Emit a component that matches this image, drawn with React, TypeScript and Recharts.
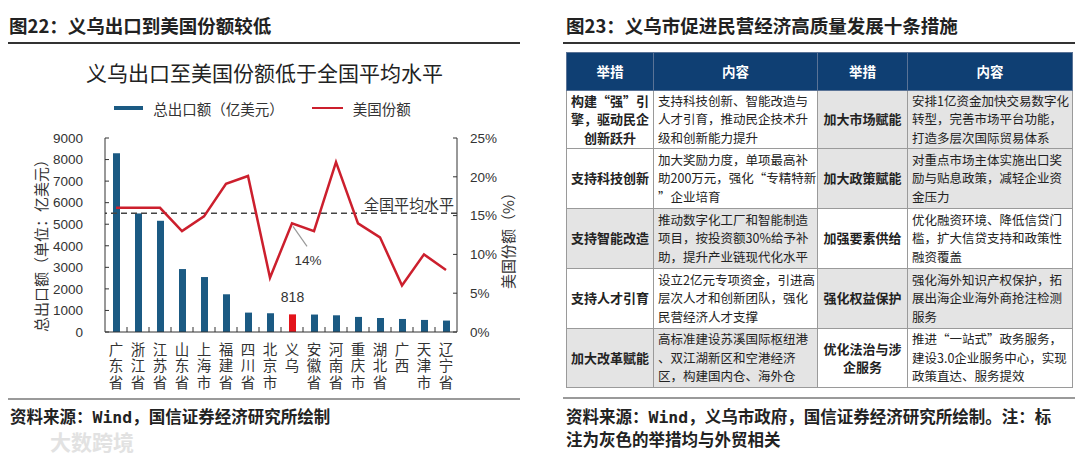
import React from 'react';
import {
  ComposedChart,
  Bar,
  Line,
  XAxis,
  YAxis,
  ReferenceLine,
  Legend,
  Cell,
  LabelList,
} from 'recharts';

// ---- chart data ----
const regions = [
  '广东省', '浙江省', '江苏省', '山东省', '上海市', '福建省', '四川省', '北京市',
  '义乌', '安徽省', '河南省', '重庆市', '湖北省', '广西', '天津市', '辽宁省',
];
const exportTotals = [8290, 5500, 5160, 2920, 2550, 1750, 900, 870, 818, 810, 775, 700, 650, 605, 560, 530];
const usShare = [16.0, 16.0, 16.0, 13.0, 14.9, 19.1, 20.1, 7.0, 14.0, 13.0, 21.9, 14.0, 12.2, 6.0, 10.0, 8.0];
const highlightRegion = '义乌';
const nationalAvgShare = 15.3;
const leftTicks = [0, 1000, 2000, 3000, 4000, 5000, 6000, 7000, 8000, 9000];
const rightTicks = [0, 5, 10, 15, 20, 25];

// ---- table data ----
const leftMeasures = [
  ['构建“强”引', '擎，驱动民企', '创新跃升'],
  ['支持科技创新'],
  ['支持智能改造'],
  ['支持人才引育'],
  ['加大改革赋能'],
];
const leftContents = [
  ['支持科技创新、智能改造与', '人才引育，推动民企技术升', '级和创新能力提升'],
  ['加大奖励力度，单项最高补', '助200万元，强化“专精特新', '”企业培育'],
  ['推动数字化工厂和智能制造', '项目，按投资额30%给予补', '助，提升产业链现代化水平'],
  ['设立2亿元专项资金，引进高', '层次人才和创新团队，强化', '民营经济人才支撑'],
  ['高标准建设苏溪国际枢纽港', '、双江湖新区和空港经济', '区，构建国内仓、海外仓'],
];
const rightMeasures = [
  ['加大市场赋能'],
  ['加大政策赋能'],
  ['加强要素供给'],
  ['强化权益保护'],
  ['优化法治与涉', '企服务'],
];
const rightContents = [
  ['安排1亿资金加快交易数字化', '转型，完善市场平台功能，', '打造多层次国际贸易体系'],
  ['对重点市场主体实施出口奖', '励与贴息政策，减轻企业资', '金压力'],
  ['优化融资环境、降低信贷门', '槛，扩大信贷支持和政策性', '融资覆盖'],
  ['强化海外知识产权保护，拓', '展出海企业海外商抢注检测', '服务'],
  ['推进“一站式”政务服务，', '建设3.0企业服务中心，实现', '政策直达、服务提效'],
];
const leftTradeRelated = [false, false, true, false, true];
const rightTradeRelated = [true, true, false, true, false];

const chartData = regions.map((name, i) => ({
  name,
  exports: exportTotals[i],
  share: usShare[i],
}));

const FONT = '"Noto Sans CJK SC", "Liberation Sans", sans-serif';
const NUM_FONT = '"Liberation Sans", "Noto Sans CJK SC", sans-serif';
const BAR_BLUE = '#1b5a83';
const BAR_RED = '#e3141b';
const LINE_RED = '#cc1f2d';
const TEXT = '#222';

// category names are set vertically (top-to-bottom) under each bar
const StackedTick = (props: any) => {
  const { x, y, payload, index, visibleTicksCount, width } = props;
  const band = width && visibleTicksCount ? width / visibleTicksCount : 22;
  return (
    <g>
      {index < visibleTicksCount - 1 && (
        <line x1={x + band / 2} x2={x + band / 2} y1={y} y2={y - 5} stroke="#333" />
      )}
      <text
        x={x}
        y={y + 10}
        textAnchor="start"
        fontSize={14.5}
        fill="#333"
        fontFamily={FONT}
        style={{ writingMode: 'vertical-rl', letterSpacing: 2 }}
      >
        {payload.value}
      </text>
    </g>
  );
};

const renderLegend = () => (
  <div
    style={{
      height: 20,
      display: 'flex',
      alignItems: 'center',
      justifyContent: 'center',
      fontSize: 14.5,
      color: '#333',
      fontFamily: FONT,
      paddingRight: 15,
    }}
  >
    <span style={{ display: 'inline-block', width: 29, height: 4, background: BAR_BLUE, marginRight: 10 }} />
    <span>总出口额（亿美元）</span>
    <span style={{ display: 'inline-block', width: 31, height: 2.5, background: LINE_RED, marginLeft: 28, marginRight: 10 }} />
    <span>美国份额</span>
  </div>
);

const BarValueLabel = (props: any) => {
  const { x, y, width, value, index } = props;
  if (regions[index] !== highlightRegion) return null;
  return (
    <text x={x + width / 2} y={y - 17} textAnchor="middle" dominantBaseline="central" fontSize={14} fill="#333" fontFamily={NUM_FONT}>
      {value}
    </text>
  );
};

const ShareCallout = (props: any) => {
  const { x, y, value, index } = props;
  if (regions[index] !== highlightRegion) return null;
  return (
    <g>
      <line x1={x + 1} y1={y + 3} x2={x + 15} y2={y + 23} stroke="#999" strokeWidth={1.2} />
      <text x={x + 16} y={y + 37} textAnchor="middle" dominantBaseline="central" fontSize={13.5} fill="#333" fontFamily={NUM_FONT}>
        {`${Math.round(value)}%`}
      </text>
    </g>
  );
};

const LeftAxisLabel = (props: any) => {
  const vb = props.viewBox || { x: 0, y: 0, width: 0, height: 0 };
  const cx = vb.x + 40;
  const cy = vb.y + vb.height / 2 + 7;
  return (
    <text x={cx} y={cy} transform={`rotate(-90, ${cx}, ${cy})`} textAnchor="middle" dominantBaseline="central" fontSize={15} fill="#333" fontFamily={FONT}>
      总出口额（单位：亿美元）
    </text>
  );
};

const RightAxisLabel = (props: any) => {
  const vb = props.viewBox || { x: 0, y: 0, width: 0, height: 0 };
  const cx = vb.x + 50;
  const cy = vb.y + vb.height / 2 + 2;
  return (
    <text x={cx} y={cy} transform={`rotate(-90, ${cx}, ${cy})`} textAnchor="middle" dominantBaseline="central" fontSize={15} fill="#333" fontFamily={FONT}>
      美国份额（%）
    </text>
  );
};

function ExportChart() {
  return (
    <div style={{ position: 'absolute', left: 0, top: 0, width: 540, height: 400, fontFamily: NUM_FONT }}>
      <div
        style={{
          position: 'absolute',
          left: 0,
          top: 58,
          width: 529,
          textAlign: 'center',
          fontSize: 21,
          lineHeight: '28px',
          color: TEXT,
          fontFamily: FONT,
        }}
      >
        义乌出口至美国份额低于全国平均水平
      </div>
      <ComposedChart width={540} height={400} data={chartData} margin={{ top: 118, right: 0, bottom: 13, left: 0 }}>
        <Legend verticalAlign="top" content={renderLegend} wrapperStyle={{ top: 98, left: 0, width: 540 }} />
        <XAxis
          dataKey="name"
          interval={0}
          tickLine={false}
          tickSize={0}
          tickMargin={0}
          height={55}
          axisLine={{ stroke: '#333' }}
          tick={<StackedTick />}
        />
        <YAxis
          yAxisId="left"
          orientation="left"
          width={105}
          domain={[0, 9000]}
          ticks={leftTicks}
          interval={0}
          tickSize={-4}
          tickMargin={26}
          axisLine={{ stroke: '#333' }}
          tickLine={{ stroke: '#333' }}
          tick={{ fontSize: 13.5, fill: '#333', fontFamily: NUM_FONT }}
          label={<LeftAxisLabel />}
        />
        <YAxis
          yAxisId="right"
          orientation="right"
          width={83}
          domain={[0, 25]}
          ticks={rightTicks}
          interval={0}
          tickSize={-4}
          tickMargin={17}
          tickFormatter={(v: number) => `${v}%`}
          axisLine={{ stroke: '#333' }}
          tickLine={{ stroke: '#333' }}
          tick={{ fontSize: 13.5, fill: '#333', fontFamily: NUM_FONT }}
          label={<RightAxisLabel />}
        />
        <Bar yAxisId="left" dataKey="exports" name="总出口额（亿美元）" barSize={7} isAnimationActive={false}>
          {chartData.map((d) => (
            <Cell key={d.name} fill={d.name === highlightRegion ? BAR_RED : BAR_BLUE} />
          ))}
          <LabelList dataKey="exports" content={<BarValueLabel />} />
        </Bar>
        <ReferenceLine
          yAxisId="right"
          y={nationalAvgShare}
          stroke="#444"
          strokeWidth={1.5}
          strokeDasharray="6 4"
          label={{ value: '全国平均水平', position: 'insideBottomRight', offset: 3, fontSize: 15, fill: '#333', fontFamily: FONT }}
        />
        <Line
          yAxisId="right"
          dataKey="share"
          name="美国份额"
          type="linear"
          stroke={LINE_RED}
          strokeWidth={2.5}
          dot={false}
          activeDot={false}
          isAnimationActive={false}
        >
          <LabelList dataKey="share" content={<ShareCallout />} />
        </Line>
      </ComposedChart>
    </div>
  );
}

const cellBase: React.CSSProperties = {
  border: '1px solid #9a9a9a',
  verticalAlign: 'middle',
  fontSize: 12.5,
  lineHeight: '18.5px',
  color: TEXT,
  padding: 0,
};

function Lines({ lines }: { lines: string[] }) {
  return (
    <>
      {lines.map((l, i) => (
        <div key={i} style={{ whiteSpace: 'nowrap' }}>
          {l}
        </div>
      ))}
    </>
  );
}

function MeasuresTable() {
  const rowHeights = [58, 60, 60, 60, 59];
  const headStyle: React.CSSProperties = {
    ...cellBase,
    background: '#0f3f73',
    color: '#fff',
    fontWeight: 700,
    fontSize: 13.5,
    textAlign: 'center',
    border: '1px solid #5a7396',
  };
  const measureStyle = (gray: boolean): React.CSSProperties => ({
    ...cellBase,
    background: gray ? '#e4e4e4' : '#fff',
    fontWeight: 700,
    fontSize: 13,
    textAlign: 'center',
  });
  const contentStyle = (gray: boolean): React.CSSProperties => ({
    ...cellBase,
    background: gray ? '#e4e4e4' : '#fff',
    textAlign: 'left',
    paddingLeft: 4,
  });
  return (
    <table
      style={{
        position: 'absolute',
        left: 566,
        top: 52,
        width: 506,
        borderCollapse: 'collapse',
        tableLayout: 'fixed',
        fontFamily: FONT,
        border: '1.5px solid #222',
      }}
    >
      <colgroup>
        <col style={{ width: 87 }} />
        <col style={{ width: 164 }} />
        <col style={{ width: 90 }} />
        <col style={{ width: 165 }} />
      </colgroup>
      <thead>
        <tr style={{ height: 38 }}>
          <th style={headStyle}>举措</th>
          <th style={headStyle}>内容</th>
          <th style={headStyle}>举措</th>
          <th style={headStyle}>内容</th>
        </tr>
      </thead>
      <tbody>
        {leftMeasures.map((m, i) => (
          <tr key={i} style={{ height: rowHeights[i] }}>
            <td style={measureStyle(leftTradeRelated[i])}>
              <Lines lines={m} />
            </td>
            <td style={contentStyle(leftTradeRelated[i])}>
              <Lines lines={leftContents[i]} />
            </td>
            <td style={measureStyle(rightTradeRelated[i])}>
              <Lines lines={rightMeasures[i]} />
            </td>
            <td style={contentStyle(rightTradeRelated[i])}>
              <Lines lines={rightContents[i]} />
            </td>
          </tr>
        ))}
      </tbody>
    </table>
  );
}

const headingStyle: React.CSSProperties = {
  position: 'absolute',
  top: 12,
  fontSize: 18.5,
  lineHeight: '26px',
  fontWeight: 700,
  color: TEXT,
  fontFamily: FONT,
  whiteSpace: 'nowrap',
};

const sourceStyle: React.CSSProperties = {
  position: 'absolute',
  fontSize: 16.5,
  lineHeight: '21px',
  fontWeight: 600,
  color: TEXT,
  fontFamily: '"DejaVu Sans Mono", "Noto Sans CJK SC", monospace',
  whiteSpace: 'nowrap',
};

export default function App() {
  return (
    <div style={{ position: 'relative', width: 1080, height: 455, background: '#fff', overflow: 'hidden' }}>
      <style>{'body{margin:0;background:#fff;}'}</style>

      <div style={{ ...headingStyle, left: 9 }}>图22：义乌出口到美国份额较低</div>
      <div style={{ position: 'absolute', left: 8, top: 42, width: 512, height: 1.5, background: '#333' }} />
      <ExportChart />
      <div style={{ position: 'absolute', left: 8, top: 398, width: 512, height: 2, background: '#9a9a9a' }} />
      <div style={{ ...sourceStyle, left: 10, top: 407 }}>资料来源：Wind，国信证券经济研究所绘制</div>
      <div
        style={{
          position: 'absolute',
          left: 50,
          top: 429,
          fontSize: 21,
          lineHeight: '24px',
          fontWeight: 700,
          color: '#e2e2e2',
          fontFamily: FONT,
        }}
      >
        大数跨境
      </div>

      <div style={{ ...headingStyle, left: 566 }}>图23：义乌市促进民营经济高质量发展十条措施</div>
      <div style={{ position: 'absolute', left: 563, top: 42, width: 512, height: 1.5, background: '#333' }} />
      <MeasuresTable />
      <div style={{ position: 'absolute', left: 563, top: 397, width: 512, height: 2, background: '#9a9a9a' }} />
      <div style={{ ...sourceStyle, left: 566, top: 407 }}>资料来源：Wind，义乌市政府，国信证券经济研究所绘制。注：标</div>
      <div style={{ ...sourceStyle, left: 566, top: 430 }}>注为灰色的举措均与外贸相关</div>
    </div>
  );
}
